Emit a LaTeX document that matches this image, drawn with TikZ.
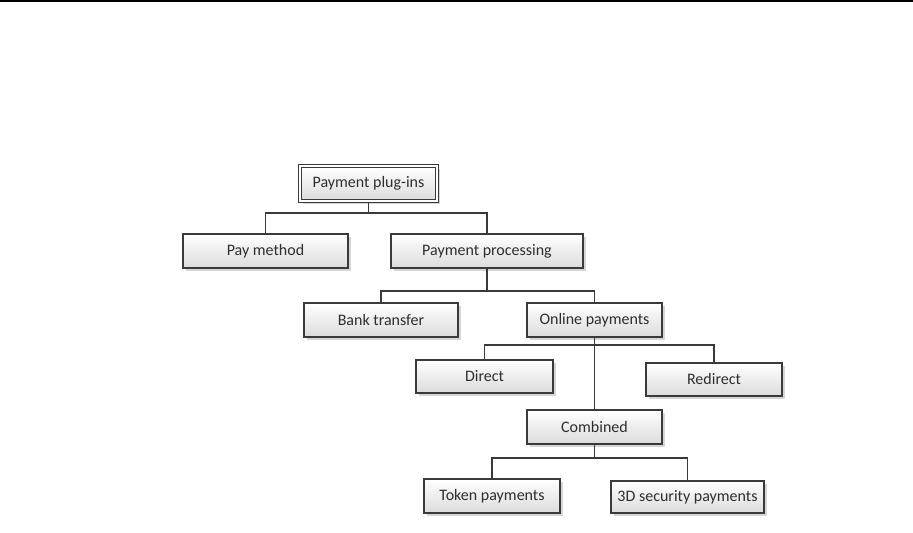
\documentclass[tikz,border=0pt]{standalone}
\usepackage{fontspec}
\setmainfont{Carlito}
\usetikzlibrary{shadows}
\definecolor{edge}{HTML}{3A3A3A}
\definecolor{txt}{HTML}{2E2E2E}
\begin{document}
\begin{tikzpicture}[x=1bp,y=-1bp,
  box/.style={rectangle, draw=edge, line width=1.4bp, top color=white, bottom color=black!14,
    text=txt, inner sep=0pt, minimum height=34bp,
    font=\fontsize{16bp}{19bp}\selectfont,
    drop shadow={shadow xshift=3bp, shadow yshift=-3bp, fill=black!16, opacity=1}},
  link/.style={draw=edge, line width=1.5bp}]
\useasboundingbox (0,0) rectangle (913,533);
\fill[black] (0,0) rectangle (913,2.5);

\node[box, minimum width=137bp, minimum height=35bp, line width=1.1bp, double=white, double distance=1.1bp] (root) at (368.5,183.5) {Payment plug-ins};
\node[box, minimum width=165bp] (pay) at (265.5,251) {Pay method};
\node[box, minimum width=192bp] (proc) at (487,251) {Payment processing};
\node[box, minimum width=154bp] (bank) at (381,320) {Bank transfer};
\node[box, minimum width=135bp] (online) at (594.5,320) {Online payments};
\node[box, minimum width=137bp, minimum height=33bp] (direct) at (484.5,376.5) {Direct};
\node[box, minimum width=136bp, minimum height=33bp] (redirect) at (714,379.5) {Redirect};
\node[box, minimum width=135bp] (comb) at (594.5,427) {Combined};
\node[box, minimum width=136bp] (token) at (492,496) {Token payments};
\node[box, minimum width=153bp, minimum height=32bp] (sec) at (687.5,497) {3D security payments};

\coordinate (j1) at (368.5,213);
\coordinate (j2) at (487,291);
\coordinate (j3) at (594.5,345);
\coordinate (j4) at (594.5,458);

\draw[link] (root.south) -- (j1);
\draw[link] (j1) -| (pay.north);
\draw[link] (j1) -| (proc.north);
\draw[link] (proc.south) -- (j2);
\draw[link] (j2) -| (bank.north);
\draw[link] (j2) -| (online.north);
\draw[link] (online.south) -- (j3);
\draw[link] (j3) -| (direct.north);
\draw[link] (j3) -| (redirect.north);
\draw[link] (j3) -- (comb.north);
\draw[link] (comb.south) -- (j4);
\draw[link] (j4) -| (token.north);
\draw[link] (j4) -| (sec.north);
\end{tikzpicture}
\end{document}
